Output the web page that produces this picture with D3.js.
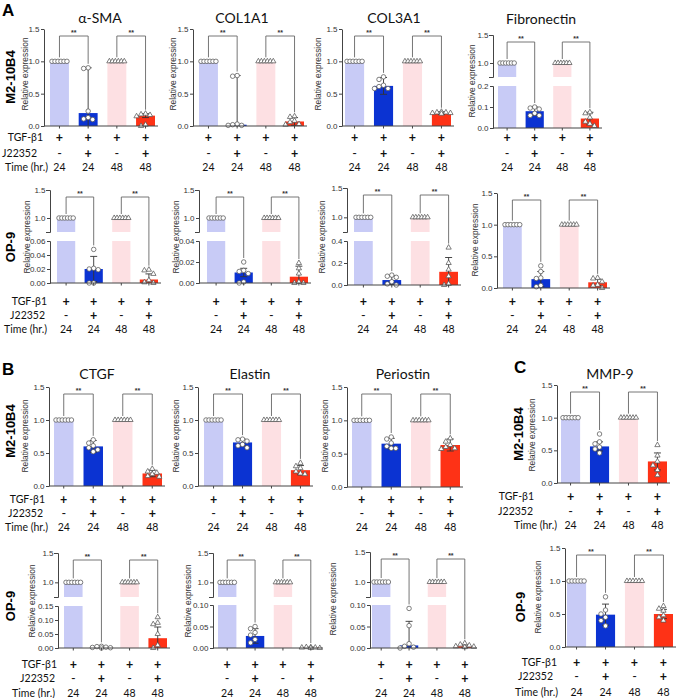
<!DOCTYPE html>
<html lang="en">
<head>
<meta charset="UTF-8">
<title>Relative expression panels</title>
<style>
    body { margin: 0; background: #fff; }
    svg { display: block; }
    .tick text { font-family: "Liberation Sans", Arial, sans-serif; font-size: 8px; fill: #333; }
    .tick line, .domain { stroke: #444; }
</style>
</head>
<body>
<div id="chart"></div>
<script src="https://d3js.org/d3.v7.min.js"></script>
<script>
    // groups along the x axis of every panel
    const groups = ["TGF 24h", "TGF+J22352 24h", "TGF 48h", "TGF+J22352 48h"];
    const rowLabels = ["TGF-β1", "J22352", "Time (hr.)"];
    const tgfRow = ["+", "+", "+", "+"];
    const j22352Row = ["-", "+", "-", "+"];
    const timeRow = ["24", "24", "48", "48"];
    const yTicks = [0, 0.5, 1.0, 1.5];

    // A - M2-10B4
    const smaM2Bar = [1, 0.20, 1, 0.16];
    const smaM2Err = [0, 0.70, 0, 0.03];
    const smaM2Pts = [[1, 1, 1, 1, 1, 1], [0.90, 0.89, 0.23, 0.13, 0.11, 0.10], [1, 1, 1, 1, 1, 1], [0.19, 0.18, 0.17, 0.15, 0.02, 0.0]];
    const col1M2Bar = [1, 0.02, 1, 0.07];
    const col1M2Err = [0, 0.76, 0, 0.06];
    const col1M2Pts = [[1, 1, 1, 1, 1, 1], [0.78, 0.77, 0.03, 0.02, 0.01, 0.01], [1, 1, 1, 1, 1, 1], [0.15, 0.14, 0.08, 0.06, 0.03, 0.02]];
    const col3M2Bar = [1, 0.62, 1, 0.20];
    const col3M2Err = [0, 0.13, 0, 0.02];
    const col3M2Pts = [[1, 1, 1, 1, 1, 1], [0.76, 0.72, 0.63, 0.61, 0.58, 0.58], [1, 1, 1, 1, 1, 1], [0.22, 0.21, 0.21, 0.20, 0.20, 0.19]];
    const fnM2Bar = [1, 0.08, 1, 0.045];
    const fnM2Err = [0, 0.02, 0, 0.03];
    const fnM2Pts = [[1, 1, 1, 1, 1, 1], [0.10, 0.095, 0.09, 0.07, 0.06, 0.06], [1, 1, 1, 1, 1, 1], [0.075, 0.07, 0.05, 0.03, 0.02, 0.01]];

    // A - OP-9
    const smaOpBar = [1, 0.020, 1, 0.005];
    const smaOpErr = [0, 0.018, 0, 0.008];
    const smaOpPts = [[1, 1, 1, 1, 1, 1], [0.048, 0.021, 0.020, 0.019, 0.0, 0.0], [1, 1, 1, 1, 1, 1], [0.019, 0.018, 0.013, 0.004, 0.001, 0.0]];
    const col1OpBar = [1, 0.010, 1, 0.006];
    const col1OpErr = [0, 0.004, 0, 0.010];
    const col1OpPts = [[1, 1, 1, 1, 1, 1], [0.020, 0.012, 0.011, 0.009, 0.001, 0.0], [1, 1, 1, 1, 1, 1], [0.019, 0.014, 0.009, 0.001, 0.0, 0.0]];
    const col3OpBar = [1, 0.045, 1, 0.12];
    const col3OpErr = [0, 0.04, 0, 0.13];
    const col3OpPts = [[1, 1, 1, 1, 1, 1], [0.09, 0.08, 0.07, 0.03, 0.01, 0.0], [1, 1, 1, 1, 1, 1], [0.34, 0.20, 0.14, 0.08, 0.01, 0.0]];
    const fnOpBar = [1, 0.14, 1, 0.09];
    const fnOpErr = [0, 0.12, 0, 0.05];
    const fnOpPts = [[1, 1, 1, 1, 1, 1], [0.35, 0.26, 0.16, 0.15, 0.04, 0.02], [1, 1, 1, 1, 1, 1], [0.16, 0.15, 0.10, 0.05, 0.04, 0.0]];

    // B / C - M2-10B4
    const ctgfM2Bar = [1, 0.60, 1, 0.19];
    const ctgfM2Err = [0, 0.09, 0, 0.05];
    const ctgfM2Pts = [[1, 1, 1, 1, 1, 1], [0.70, 0.65, 0.61, 0.58, 0.55, 0.52], [1, 1, 1, 1, 1, 1], [0.26, 0.22, 0.20, 0.18, 0.15, 0.14]];
    const elnM2Bar = [1, 0.66, 1, 0.24];
    const elnM2Err = [0, 0.05, 0, 0.07];
    const elnM2Pts = [[1, 1, 1, 1, 1, 1], [0.71, 0.70, 0.68, 0.63, 0.61, 0.58], [1, 1, 1, 1, 1, 1], [0.35, 0.30, 0.27, 0.22, 0.19, 0.18]];
    const postnM2Bar = [1, 0.65, 1, 0.63];
    const postnM2Err = [0, 0.08, 0, 0.09];
    const postnM2Pts = [[1, 1, 1, 1, 1, 1], [0.75, 0.72, 0.66, 0.61, 0.58, 0.58], [1, 1, 1, 1, 1, 1], [0.73, 0.68, 0.63, 0.60, 0.58, 0.57]];
    const mmpM2Bar = [1, 0.56, 1, 0.33];
    const mmpM2Err = [0, 0.07, 0, 0.13];
    const mmpM2Pts = [[1, 1, 1, 1, 1, 1], [0.75, 0.63, 0.60, 0.55, 0.52, 0.46], [1, 1, 1, 1, 1, 1], [0.58, 0.42, 0.33, 0.27, 0.20, 0.12]];

    // B / C - OP-9
    const ctgfOpBar = [1, 0.002, 1, 0.035];
    const ctgfOpErr = [0, 0.002, 0, 0.04];
    const ctgfOpPts = [[1, 1, 1, 1, 1, 1], [0.006, 0.005, 0.003, 0.002, 0.001, 0.0], [1, 1, 1, 1, 1, 1], [0.11, 0.09, 0.085, 0.05, 0.01, 0.0]];
    const elnOpBar = [1, 0.028, 1, 0.001];
    const elnOpErr = [0, 0.017, 0, 0.001];
    const elnOpPts = [[1, 1, 1, 1, 1, 1], [0.050, 0.045, 0.036, 0.030, 0.020, 0.012], [1, 1, 1, 1, 1, 1], [0.002, 0.002, 0.001, 0.001, 0.0, 0.0]];
    const postnOpBar = [1, 0.006, 1, 0.004];
    const postnOpErr = [0, 0.056, 0, 0.003];
    const postnOpPts = [[1, 1, 1, 1, 1, 1], [0.092, 0.052, 0.010, 0.004, 0.002, 0.0], [1, 1, 1, 1, 1, 1], [0.011, 0.008, 0.006, 0.004, 0.003, 0.002]];
    const mmpOpBar = [1, 0.49, 1, 0.50];
    const mmpOpErr = [0, 0.16, 0, 0.07];
    const mmpOpPts = [[1, 1, 1, 1, 1, 1], [0.76, 0.56, 0.50, 0.45, 0.40, 0.32], [1, 1, 1, 1, 1, 1], [0.62, 0.58, 0.55, 0.48, 0.45, 0.40]];

    // layout of the panels (pixel positions only)
    const rowA1 = [137, 153, 167], rowA2 = [301, 315, 329], rowB1 = [499, 513, 527],
        rowB2 = [664, 678, 693], rowC1 = [496, 511, 525], rowC2 = [662, 676, 692];

    const panels = [
        { title: "α-SMA", tx: 100, ty: 17, bar: smaM2Bar, err: smaM2Err, pts: smaM2Pts, x0: 44, bx: [50, 155], yTop: 29, y0: 126, lx: 25, ly: 74, rows: rowA1 },
        { title: "COL1A1", tx: 242, ty: 17, bar: col1M2Bar, err: col1M2Err, pts: col1M2Pts, x0: 193, bx: [199, 304], yTop: 29, y0: 126, lx: 173, ly: 74, rows: rowA1 },
        { title: "COL3A1", tx: 394, ty: 17, bar: col3M2Bar, err: col3M2Err, pts: col3M2Pts, x0: 342, bx: [345, 451], yTop: 29, y0: 126, lx: 318, ly: 74, rows: rowA1 },
        { title: "Fibronectin", tx: 541, ty: 18, bar: fnM2Bar, err: fnM2Err, pts: fnM2Pts, x0: 493, bx: [498, 599], yTop: 35, y0: 128, lx: 472, ly: 81, rows: rowA1,
            brk: { max: 0.2, ticks: [0, 0.1, 0.2], fmt: ".1f", yBrk: 77, yLow: 86 } },

        { bar: smaOpBar, err: smaOpErr, pts: smaOpPts, x0: 50, bx: [57, 158], yTop: 190, y0: 283, lx: 27, ly: 237, rows: rowA2,
            brk: { max: 0.06, ticks: [0, 0.02, 0.04, 0.06], fmt: ".2f", yBrk: 232, yLow: 241 } },
        { bar: col1OpBar, err: col1OpErr, pts: col1OpPts, x0: 199, bx: [207, 308], yTop: 190, y0: 283, lx: 176, ly: 237, rows: rowA2,
            brk: { max: 0.04, ticks: [0, 0.02, 0.04], fmt: ".2f", yBrk: 232, yLow: 241 } },
        { bar: col3OpBar, err: col3OpErr, pts: col3OpPts, x0: 347, bx: [354, 458], yTop: 188, y0: 285, lx: 322, ly: 237, rows: rowA2,
            brk: { max: 0.4, ticks: [0, 0.2, 0.4], fmt: ".1f", yBrk: 232, yLow: 241 } },
        { bar: fnOpBar, err: fnOpErr, pts: fnOpPts, x0: 497, bx: [503, 607], yTop: 193, y0: 288, lx: 475, ly: 240, rows: rowA2 },

        { title: "CTGF", tx: 97, ty: 373, bar: ctgfM2Bar, err: ctgfM2Err, pts: ctgfM2Pts, x0: 49, bx: [54, 162], yTop: 387, y0: 486, lx: 25, ly: 436, rows: rowB1 },
        { title: "Elastin", tx: 250, ty: 373, bar: elnM2Bar, err: elnM2Err, pts: elnM2Pts, x0: 198, bx: [204, 310], yTop: 387, y0: 486, lx: 176, ly: 436, rows: rowB1 },
        { title: "Periostin", tx: 403, ty: 373, bar: postnM2Bar, err: postnM2Err, pts: postnM2Pts, x0: 347, bx: [352, 460], yTop: 387, y0: 487, lx: 325, ly: 436, rows: rowB1 },
        { title: "MMP-9", tx: 610, ty: 373, bar: mmpM2Bar, err: mmpM2Err, pts: mmpM2Pts, x0: 557, bx: [561, 667], yTop: 385, y0: 483, lx: 532, ly: 435, rows: rowC1 },

        { bar: ctgfOpBar, err: ctgfOpErr, pts: ctgfOpPts, x0: 58, bx: [64, 167], yTop: 553, y0: 648, lx: 32, ly: 601, rows: rowB2,
            brk: { max: 0.15, ticks: [0, 0.05, 0.10, 0.15], fmt: ".2f", yBrk: 597, yLow: 606 } },
        { bar: elnOpBar, err: elnOpErr, pts: elnOpPts, x0: 213, bx: [218, 320], yTop: 553, y0: 648, lx: 188, ly: 601, rows: rowB2,
            brk: { max: 0.10, ticks: [0, 0.05, 0.10], fmt: ".2f", yBrk: 597, yLow: 605 } },
        { bar: postnOpBar, err: postnOpErr, pts: postnOpPts, x0: 370, bx: [372, 474], yTop: 552, y0: 648, lx: 333, ly: 599, rows: rowB2,
            brk: { max: 0.10, ticks: [0, 0.05, 0.10], fmt: ".2f", yBrk: 597, yLow: 605 } },
        { bar: mmpOpBar, err: mmpOpErr, pts: mmpOpPts, x0: 565, bx: [567, 673], yTop: 548, y0: 647, lx: 538, ly: 597, rows: rowC2 }
    ];

    // right edges of the row labels
    const rowLabelSets = [
        { xs: [43, 37, 48], ys: rowA1 }, { xs: [47, 45, 47], ys: rowA2 },
        { xs: [45, 43, 48], ys: rowB1 }, { xs: [57, 55, 55], ys: rowB2 },
        { xs: [534, 533, 557], ys: rowC1 }, { xs: [557, 553, 558], ys: rowC2 }
    ];
    const cellLabels = [
        { text: "M2-10B4", x: 10, y: 77 }, { text: "OP-9", x: 10, y: 247 },
        { text: "M2-10B4", x: 10, y: 431 }, { text: "OP-9", x: 10, y: 606 },
        { text: "M2-10B4", x: 518, y: 434 }, { text: "OP-9", x: 520, y: 607 }
    ];
    const letters = [{ t: "A", x: 2, y: 16 }, { t: "B", x: 2, y: 375 }, { t: "C", x: 514, y: 373 }];

    const fill = ["#c8cbf6", "#0b33d2", "#fde0e3", "#fe3216"];
    const sans = "Lato, 'Open Sans', sans-serif";
    const arial = "'Liberation Sans', Arial, sans-serif";

    const svg = d3.select("#chart").append("svg")
        .attr("width", 679)
        .attr("height", 698);
    svg.append("rect").attr("width", 679).attr("height", 698).attr("fill", "#fff");

    panels.forEach(drawPanel);

    rowLabelSets.forEach(set => {
        rowLabels.forEach((t, i) => {
            svg.append("text")
                .attr("x", set.xs[i]).attr("y", set.ys[i])
                .attr("text-anchor", "end")
                .attr("dominant-baseline", "central")
                .style("font-family", sans).style("font-size", "10.5px").style("fill", "#111")
                .text(t);
        });
    });

    cellLabels.forEach(c => {
        svg.append("text")
            .attr("transform", `translate(${c.x},${c.y}) rotate(-90)`)
            .attr("text-anchor", "middle")
            .attr("dominant-baseline", "central")
            .style("font-family", arial).style("font-weight", "bold").style("font-size", "13px")
            .text(c.text);
    });

    letters.forEach(l => {
        svg.append("text")
            .attr("x", l.x).attr("y", l.y)
            .style("font-family", arial).style("font-weight", "bold").style("font-size", "17px")
            .text(l.t);
    });

    function placePoints(vals, cx, y, bw) {
        // identical values sit in one even row, others are spread so they do not overlap
        if (d3.min(vals) === d3.max(vals)) {
            const step = (bw - 4) / (vals.length - 1);
            return vals.map((v, k) => [cx + (k - (vals.length - 1) / 2) * step, y(v)]);
        }
        const steps = [0, -4.5, 4.5, -2.5, 2.5, -7, 7, -9, 9];
        const placed = [];
        vals.forEach(v => {
            const py = y(v);
            let px = cx;
            for (const s of steps) {
                if (placed.every(q => Math.hypot(q[0] - (cx + s), q[1] - py) >= 4.4)) { px = cx + s; break; }
            }
            placed.push([px, py]);
        });
        return placed;
    }

    function drawPanel(p) {
        const g = svg.append("g");
        const x = d3.scaleBand().domain(groups).range(p.bx).paddingInner(0.34).paddingOuter(0);
        const bw = x.bandwidth();
        const cx = i => x(groups[i]) + bw / 2;
        const lo = p.brk ? p.brk.max : 1.5;
        const yLo = d3.scaleLinear().domain([0, lo]).range([p.y0, p.brk ? p.brk.yLow : p.yTop]);
        const yHi = p.brk ? d3.scaleLinear().domain([0.75, 1.5]).range([p.brk.yBrk, p.yTop]) : null;
        const y = v => (p.brk && v > lo) ? yHi(v) : yLo(v);

        // bar pieces (a bar that crosses the break is cut into two)
        const pieces = [];
        p.bar.forEach((v, i) => {
            if (p.brk && v > lo) {
                pieces.push({ i, top: yHi(v), bot: p.brk.yBrk });
                pieces.push({ i, top: p.brk.yLow, bot: p.y0 });
            } else {
                pieces.push({ i, top: y(v), bot: p.y0 });
            }
        });
        g.selectAll(".bar").data(pieces).enter().append("rect")
            .attr("class", "bar")
            .attr("x", d => x(groups[d.i]))
            .attr("width", bw)
            .attr("y", d => d.top)
            .attr("height", d => d.bot - d.top)
            .attr("fill", d => fill[d.i]);

        // error bars
        p.bar.forEach((v, i) => {
            if (!p.err[i]) return;
            const hi = y(v + p.err[i]), low = y(Math.max(0, v - p.err[i]));
            const eg = g.append("g").attr("stroke", "#333").attr("stroke-width", 0.9);
            eg.append("line").attr("x1", cx(i)).attr("x2", cx(i)).attr("y1", low).attr("y2", hi);
            eg.append("line").attr("x1", cx(i) - 3.5).attr("x2", cx(i) + 3.5).attr("y1", hi).attr("y2", hi);
            if (v - p.err[i] > 0) {
                eg.append("line").attr("x1", cx(i) - 3.5).attr("x2", cx(i) + 3.5).attr("y1", low).attr("y2", low);
            }
        });

        // individual points
        p.pts.forEach((vals, i) => {
            const pos = placePoints(vals, cx(i), y, bw);
            const sym = d3.symbol().type(i < 2 ? d3.symbolCircle : d3.symbolTriangle).size(i < 2 ? 16 : 12);
            g.selectAll(null).data(pos).enter().append("path")
                .attr("d", sym)
                .attr("transform", d => `translate(${d[0]},${d[1]})`)
                .attr("fill", "#fff")
                .attr("stroke", "#555")
                .attr("stroke-width", 0.75);
        });

        // y axis
        if (p.brk) {
            g.append("g").attr("transform", `translate(${p.x0},0)`)
                .call(d3.axisLeft(yHi).tickValues([1.0, 1.5]).tickFormat(d3.format(".1f")).tickSize(3).tickSizeOuter(4));
            g.append("g").attr("transform", `translate(${p.x0},0)`)
                .call(d3.axisLeft(yLo).tickValues(p.brk.ticks).tickFormat(d3.format(p.brk.fmt)).tickSize(3).tickSizeOuter(3));
        } else {
            g.append("g").attr("transform", `translate(${p.x0},0)`)
                .call(d3.axisLeft(yLo).tickValues(yTicks).tickFormat(d3.format(".1f")).tickSize(3).tickSizeOuter(0));
        }
        g.selectAll(".tick text").attr("x", -4.5);

        // x axis
        g.append("line")
            .attr("x1", p.x0).attr("x2", p.bx[1] + 3)
            .attr("y1", p.y0).attr("y2", p.y0)
            .attr("stroke", "#444");
        g.selectAll(".xt").data(groups).enter().append("line")
            .attr("x1", (d, i) => cx(i)).attr("x2", (d, i) => cx(i))
            .attr("y1", p.y0).attr("y2", p.y0 + 2.5)
            .attr("stroke", "#444");

        // y label
        g.append("text")
            .attr("transform", `translate(${p.lx},${p.ly}) rotate(-90)`)
            .attr("text-anchor", "middle")
            .attr("dominant-baseline", "central")
            .style("font-family", arial).style("font-size", "8.4px").style("fill", "#333")
            .text("Relative expression");

        // title
        if (p.title) {
            g.append("text")
                .attr("x", p.tx).attr("y", p.ty)
                .attr("text-anchor", "middle")
                .attr("dominant-baseline", "central")
                .style("font-family", sans).style("font-size", "14px").style("fill", "#111")
                .text(p.title);
        }

        // treatment rows under the bars
        [tgfRow, j22352Row, timeRow].forEach((row, r) => {
            g.selectAll(null).data(row).enter().append("text")
                .attr("x", (d, i) => cx(i))
                .attr("y", p.rows[r])
                .attr("text-anchor", "middle")
                .attr("dominant-baseline", "central")
                .style("font-family", sans)
                .style("font-size", r === 2 ? "10.5px" : "12.5px")
                .style("font-weight", d => d === "+" ? "bold" : "normal")
                .style("fill", "#111")
                .text(d => d);
        });

        // significance brackets
        const yb = p.yTop + 7;
        [[0, 1], [2, 3]].forEach(([a, b]) => {
            const topA = y(Math.max(p.bar[a] + p.err[a], d3.max(p.pts[a]))) - 4;
            const topB = y(Math.max(p.bar[b] + p.err[b], d3.max(p.pts[b]))) - 4;
            g.append("path")
                .attr("d", `M${cx(a)},${topA}V${yb}H${cx(b)}V${topB}`)
                .attr("fill", "none")
                .attr("stroke", "#666")
                .attr("stroke-width", 0.9);
            g.append("text")
                .attr("x", (cx(a) + cx(b)) / 2).attr("y", yb - 1.5)
                .attr("text-anchor", "middle")
                .style("font-family", arial).style("font-size", "7px").style("font-weight", "bold").style("fill", "#333")
                .text("**");
        });
    }
</script>
</body>
</html>
